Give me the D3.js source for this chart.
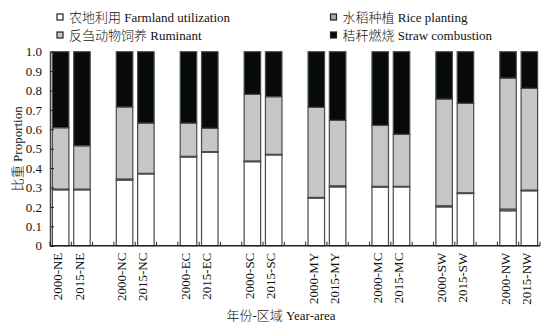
<!DOCTYPE html>
<html>
<head>
<meta charset="utf-8">
<script src="https://cdn.jsdelivr.net/npm/d3@7/dist/d3.min.js"></script>
<style>
  html, body { margin: 0; padding: 0; background: #fff; }
  svg { display: block; }
  text { font-family: "Liberation Serif", "Noto Sans CJK SC", serif; fill: #111; font-weight: 300; }
</style>
</head>
<body>
<svg id="chart" width="546" height="326"></svg>
<script>
// Regions and years
const regions = ["NE", "NC", "EC", "SC", "MY", "MC", "SW", "NW"];
const years = ["2000", "2015"];

// Share of each source, one value per bar: 2000-NE, 2015-NE, 2000-NC, ...
const farmland = [0.288, 0.288, 0.338, 0.370, 0.457, 0.482, 0.433, 0.468,
                  0.245, 0.303, 0.302, 0.303, 0.200, 0.269, 0.180, 0.283];
const rice     = [0.004, 0.004, 0.006, 0.003, 0.004, 0.003, 0.004, 0.003,
                  0.004, 0.006, 0.004, 0.003, 0.006, 0.004, 0.009, 0.004];
const ruminant = [0.316, 0.223, 0.371, 0.259, 0.171, 0.120, 0.343, 0.297,
                  0.464, 0.337, 0.314, 0.268, 0.550, 0.461, 0.675, 0.524];
const straw    = [0.392, 0.485, 0.285, 0.368, 0.368, 0.395, 0.220, 0.232,
                  0.287, 0.354, 0.380, 0.426, 0.244, 0.266, 0.136, 0.189];

const yTicks = [0, 0.1, 0.2, 0.3, 0.4, 0.5, 0.6, 0.7, 0.8, 0.9, 1.0];

const seriesNames = [
  "农地利用 Farmland utilization",
  "水稻种植 Rice planting",
  "反刍动物饲养 Ruminant",
  "秸秆燃烧 Straw combustion"
];
const seriesKeys = ["farmland", "rice", "ruminant", "straw"];
const colors = { farmland: "#ffffff", rice: "#a8a8a8", ruminant: "#c6c6c6", straw: "#070a0b" };

// Build per-bar rows
const labels = [];
regions.forEach(r => years.forEach(y => labels.push(y + "-" + r)));
const rows = labels.map((lab, i) => ({
  label: lab,
  farmland: farmland[i], rice: rice[i], ruminant: ruminant[i], straw: straw[i]
}));

// Category slots: two bars per region, then an empty slot between regions
const slots = [];
regions.forEach((r, gi) => {
  years.forEach(y => slots.push(y + "-" + r));
  if (gi < regions.length - 1) slots.push("gap-" + gi);
});

const svg = d3.select("#chart");
const plotLeft = 50, plotRight = 540, plotTop = 51.7, plotBottom = 245.7;

const x = d3.scaleBand().domain(slots).range([plotLeft, plotRight]).padding(0);
const y = d3.scaleLinear().domain([0, 1]).range([plotBottom, plotTop]);
const barW = x.step() * 0.775;

const stacked = d3.stack().keys(seriesKeys)(rows);

const g = svg.append("g");
stacked.forEach(layer => {
  g.selectAll(null)
    .data(layer)
    .enter()
    .append("rect")
    .attr("x", d => x(d.data.label) + (x.bandwidth() - barW) / 2)
    .attr("width", barW)
    .attr("y", d => y(d[1]))
    .attr("height", d => y(d[0]) - y(d[1]))
    .attr("fill", colors[layer.key])
    .attr("stroke", "#4a4a4a")
    .attr("stroke-width", 1.2);
});

// Y axis
const yAxis = d3.axisLeft(y)
  .tickValues(yTicks)
  .tickSize(-4)
  .tickPadding(8)
  .tickFormat(d => d === 0 ? "0" : d3.format(".1f")(d));
const yg = svg.append("g").attr("transform", `translate(${plotLeft},0)`).call(yAxis);
yg.select(".domain").attr("stroke", "#444").attr("stroke-width", 1.5);
yg.selectAll(".tick line").attr("stroke", "#222").attr("stroke-width", 1);
yg.selectAll(".tick text")
  .style("font-family", "'Liberation Serif', serif")
  .style("font-size", "13px")
  .attr("fill", "#111");

// X axis line with ticks at slot boundaries
svg.append("line")
  .attr("x1", plotLeft).attr("x2", plotRight)
  .attr("y1", plotBottom).attr("y2", plotBottom)
  .attr("stroke", "#222").attr("stroke-width", 1.5);
const bounds = d3.range(slots.length + 1).map(i => plotLeft + i * x.step());
svg.append("g").selectAll("line")
  .data(bounds)
  .enter()
  .append("line")
  .attr("x1", d => d).attr("x2", d => d)
  .attr("y1", plotBottom).attr("y2", plotBottom - 4)
  .attr("stroke", "#222").attr("stroke-width", 1);

// X tick labels, rotated
svg.append("g").selectAll("text")
  .data(labels)
  .enter()
  .append("text")
  .attr("transform", d => `translate(${x(d) + x.bandwidth() / 2 - 3},${plotBottom + 7}) rotate(-90)`)
  .attr("text-anchor", "end")
  .attr("dy", "0.35em")
  .style("font-size", "13px")
  .text(d => d);

// Axis titles
svg.append("text")
  .attr("transform", `translate(22,${(plotTop + plotBottom) / 2}) rotate(-90)`)
  .attr("text-anchor", "middle")
  .style("font-size", "13px")
  .text("比重 Proportion");

svg.append("text")
  .attr("x", 281).attr("y", 320)
  .attr("text-anchor", "middle")
  .style("font-size", "13px")
  .text("年份-区域 Year-area");

// Legend, two columns
const legendPos = [
  { x: 57, y: 17 }, { x: 330.5, y: 17 },
  { x: 57, y: 35 }, { x: 330.5, y: 35 }
];
const lg = svg.append("g");
seriesKeys.forEach((k, i) => {
  const p = legendPos[i];
  lg.append("rect")
    .attr("x", p.x).attr("y", p.y - 3)
    .attr("width", 6).attr("height", 6)
    .attr("fill", colors[k])
    .attr("stroke", "#222").attr("stroke-width", 1.2);
  lg.append("text")
    .attr("x", p.x + 12).attr("y", p.y)
    .attr("dy", "0.35em")
    .style("font-size", "13px")
    .text(seriesNames[i]);
});
</script>
</body>
</html>
